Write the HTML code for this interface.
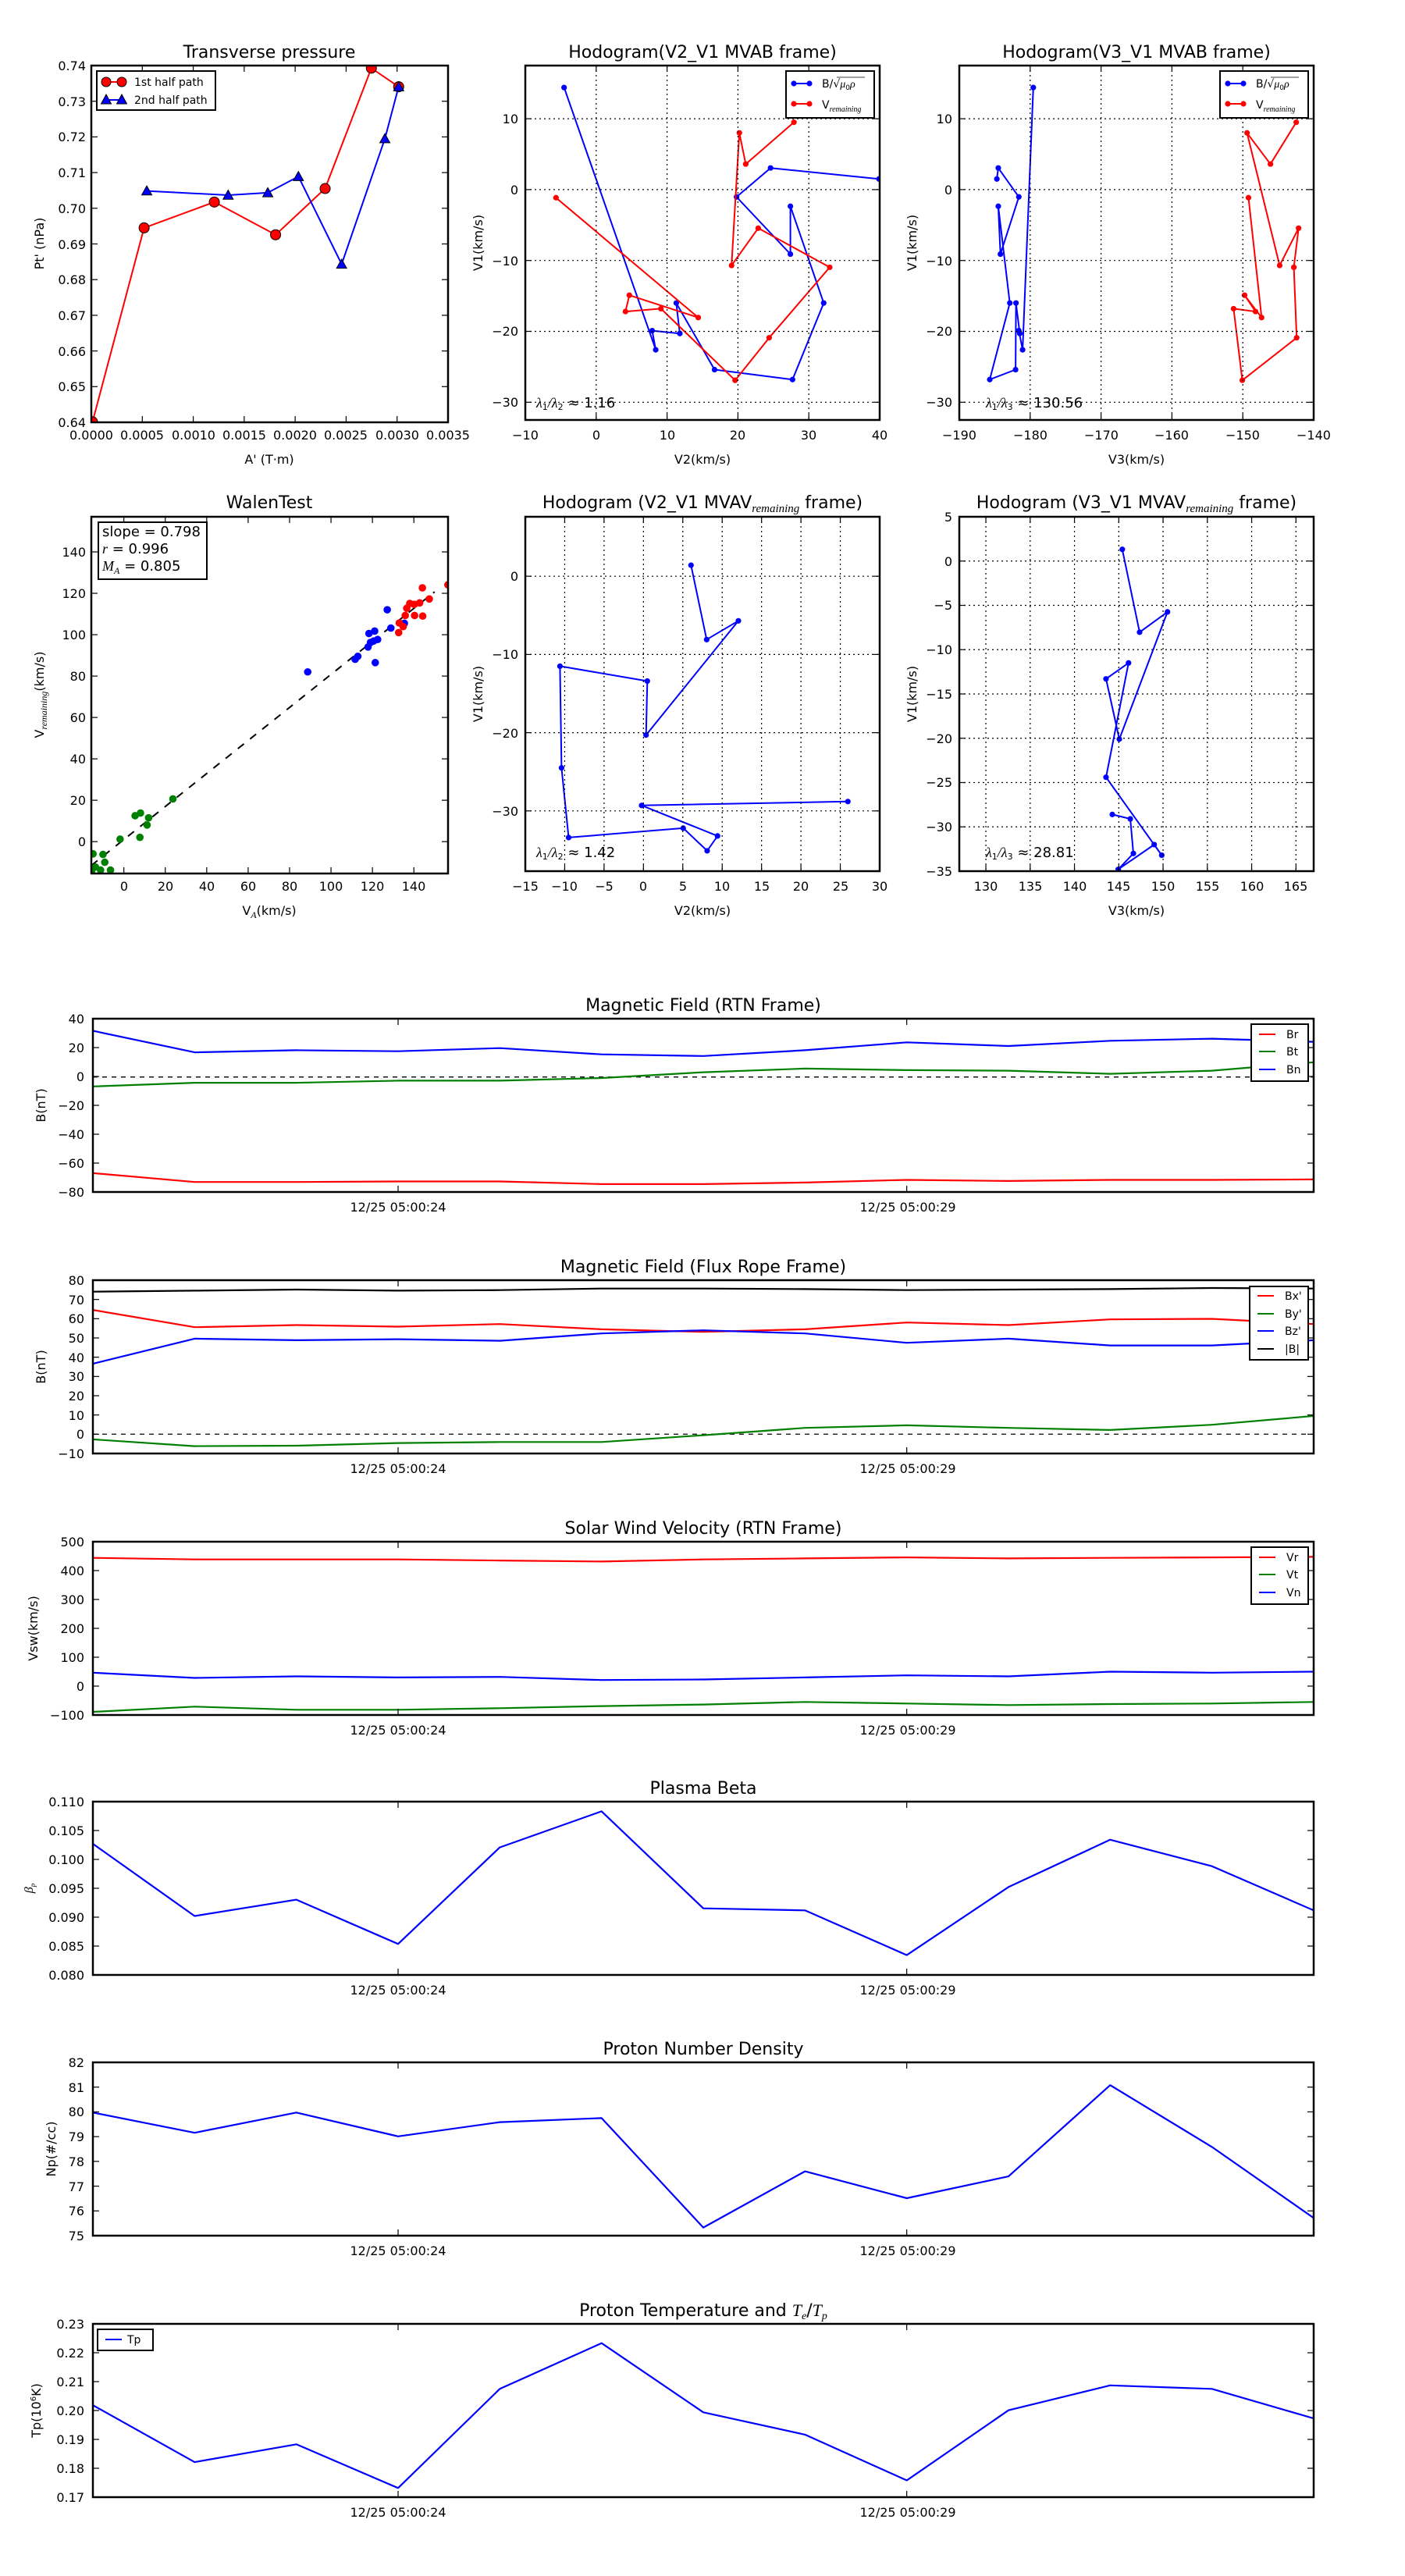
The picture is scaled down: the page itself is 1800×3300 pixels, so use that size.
<!DOCTYPE html>
<html><head><meta charset="utf-8"><style>
html,body{margin:0;padding:0;background:#fff}
svg{display:block;font-family:"DejaVu Sans","Liberation Sans",sans-serif}
.t{font-size:22px;text-anchor:middle}
.k{font-size:16px}
.r{text-anchor:end}
.c{text-anchor:middle}
.lg{font-size:14px}
.m{font-family:"Liberation Serif","DejaVu Serif",serif;font-style:italic}
</style></head><body>
<svg id="s" xmlns="http://www.w3.org/2000/svg" width="1800" height="3300" viewBox="0 0 1800 3300">
<rect width="1800" height="3300" fill="#fff"/>
<g id="g"></g>
<text class="t" x="345" y="74">Transverse pressure</text>
<text class="t" x="900" y="74">Hodogram(V2_V1 MVAB frame)</text>
<text class="t" x="1456" y="74">Hodogram(V3_V1 MVAB frame)</text>
<text class="t" x="345" y="651">WalenTest</text>
<text class="t" x="900" y="651">Hodogram (V2_V1 MVAV<tspan class="m" font-size="15" dy="5">remaining</tspan><tspan dy="-5"> frame)</tspan></text>
<text class="t" x="1456" y="651">Hodogram (V3_V1 MVAV<tspan class="m" font-size="15" dy="5">remaining</tspan><tspan dy="-5"> frame)</tspan></text>
<text class="t" x="901" y="1295">Magnetic Field (RTN Frame)</text>
<text class="t" x="901" y="1630">Magnetic Field (Flux Rope Frame)</text>
<text class="t" x="901" y="1965">Solar Wind Velocity (RTN Frame)</text>
<text class="t" x="901" y="2298">Plasma Beta</text>
<text class="t" x="901" y="2632">Proton Number Density</text>
<text class="t" x="901" y="2967">Proton Temperature and <tspan class="m">T</tspan><tspan class="m" font-size="14" dy="4">e</tspan><tspan dy="-4">/</tspan><tspan class="m">T</tspan><tspan class="m" font-size="14" dy="4">p</tspan></text>

<g class="k c">
<text x="117" y="563">0.0000</text><text x="182" y="563">0.0005</text><text x="248" y="563">0.0010</text><text x="313" y="563">0.0015</text><text x="378" y="563">0.0020</text><text x="443" y="563">0.0025</text><text x="509" y="563">0.0030</text><text x="574" y="563">0.0035</text>
<text x="345" y="594">A' (T·m)</text>
</g>
<g class="k r">
<text x="110" y="547">0.64</text><text x="110" y="501">0.65</text><text x="110" y="456">0.66</text><text x="110" y="410">0.67</text><text x="110" y="364">0.68</text><text x="110" y="319">0.69</text><text x="110" y="273">0.70</text><text x="110" y="227">0.71</text><text x="110" y="181">0.72</text><text x="110" y="136">0.73</text><text x="110" y="90">0.74</text>
</g>
<text class="k c" transform="translate(56,312) rotate(-90)">Pt' (nPa)</text>
<text class="lg" x="172" y="110">1st half path</text>
<text class="lg" x="172" y="133">2nd half path</text>

<g class="k c">
<text x="159" y="1141">0</text><text x="212" y="1141">20</text><text x="265" y="1141">40</text><text x="318" y="1141">60</text><text x="371" y="1141">80</text><text x="424" y="1141">100</text><text x="477" y="1141">120</text><text x="530" y="1141">140</text>
<text x="345" y="1172">V<tspan class="m" font-size="12" dy="4">A</tspan><tspan dy="-4">(km/s)</tspan></text>
</g>
<g class="k r">
<text x="110" y="1084">0</text><text x="110" y="1031">20</text><text x="110" y="978">40</text><text x="110" y="925">60</text><text x="110" y="872">80</text><text x="110" y="819">100</text><text x="110" y="766">120</text><text x="110" y="713">140</text>
</g>
<text class="k c" transform="translate(56,890) rotate(-90)">V<tspan class="m" font-size="12" dy="4">remaining</tspan><tspan dy="-4">(km/s)</tspan></text>
<g style="font-size:18px">
<text x="131" y="687">slope = 0.798</text>
<text x="131" y="709"><tspan class="m">r</tspan> = 0.996</text>
<text x="131" y="731"><tspan class="m">M</tspan><tspan class="m" font-size="12" dy="4">A</tspan><tspan dy="-4"> = 0.805</tspan></text>
</g>

<g class="k c">
<text x="673" y="563">−10</text><text x="764" y="563">0</text><text x="855" y="563">10</text><text x="945" y="563">20</text><text x="1036" y="563">30</text><text x="1127" y="563">40</text>
<text x="900" y="594">V2(km/s)</text>
<text x="1229" y="563">−190</text><text x="1320" y="563">−180</text><text x="1411" y="563">−170</text><text x="1501" y="563">−160</text><text x="1592" y="563">−150</text><text x="1683" y="563">−140</text>
<text x="1456" y="594">V3(km/s)</text>
</g>
<g class="k r">
<text x="664" y="158">10</text><text x="664" y="249">0</text><text x="664" y="340">−10</text><text x="664" y="430">−20</text><text x="664" y="521">−30</text>
<text x="1220" y="158">10</text><text x="1220" y="249">0</text><text x="1220" y="340">−10</text><text x="1220" y="430">−20</text><text x="1220" y="521">−30</text>
</g>
<text class="k c" transform="translate(618,311) rotate(-90)">V1(km/s)</text>
<text class="k c" transform="translate(1174,311) rotate(-90)">V1(km/s)</text>
<text x="687" y="522" font-size="18"><tspan class="m">λ</tspan><tspan font-size="11" dy="3">1</tspan><tspan class="m" dy="-3">/λ</tspan><tspan font-size="11" dy="3">2</tspan><tspan dy="-3"> ≈ 1.16</tspan></text>
<text x="1263" y="522" font-size="18"><tspan class="m">λ</tspan><tspan font-size="11" dy="3">1</tspan><tspan class="m" dy="-3">/λ</tspan><tspan font-size="11" dy="3">3</tspan><tspan dy="-3"> ≈ 130.56</tspan></text>
<g font-size="14">
<text x="1053" y="112">B/√<tspan class="m">μ</tspan><tspan font-size="9" dy="3">0</tspan><tspan class="m" dy="-3">ρ</tspan></text>
<text x="1053" y="139">V<tspan class="m" font-size="10" dy="4">remaining</tspan></text>
<text x="1609" y="112">B/√<tspan class="m">μ</tspan><tspan font-size="9" dy="3">0</tspan><tspan class="m" dy="-3">ρ</tspan></text>
<text x="1609" y="139">V<tspan class="m" font-size="10" dy="4">remaining</tspan></text>
</g>
<line x1="1072" y1="99" x2="1108" y2="99" stroke="#000" stroke-width="0.8"/>
<line x1="1628" y1="99" x2="1664" y2="99" stroke="#000" stroke-width="0.8"/>

<g class="k c">
<text x="673" y="1141">−15</text><text x="723" y="1141">−10</text><text x="774" y="1141">−5</text><text x="824" y="1141">0</text><text x="875" y="1141">5</text><text x="925" y="1141">10</text><text x="976" y="1141">15</text><text x="1026" y="1141">20</text><text x="1077" y="1141">25</text><text x="1127" y="1141">30</text>
<text x="900" y="1172">V2(km/s)</text>
<text x="1263" y="1141">130</text><text x="1320" y="1141">135</text><text x="1377" y="1141">140</text><text x="1433" y="1141">145</text><text x="1490" y="1141">150</text><text x="1547" y="1141">155</text><text x="1604" y="1141">160</text><text x="1660" y="1141">165</text>
<text x="1456" y="1172">V3(km/s)</text>
</g>
<g class="k r">
<text x="664" y="744">0</text><text x="664" y="844">−10</text><text x="664" y="945">−20</text><text x="664" y="1045">−30</text>
<text x="1220" y="668">5</text><text x="1220" y="725">0</text><text x="1220" y="781">−5</text><text x="1220" y="838">−10</text><text x="1220" y="895">−15</text><text x="1220" y="952">−20</text><text x="1220" y="1008">−25</text><text x="1220" y="1065">−30</text><text x="1220" y="1122">−35</text>
</g>
<text class="k c" transform="translate(618,889) rotate(-90)">V1(km/s)</text>
<text class="k c" transform="translate(1174,889) rotate(-90)">V1(km/s)</text>
<text x="687" y="1098" font-size="18"><tspan class="m">λ</tspan><tspan font-size="11" dy="3">1</tspan><tspan class="m" dy="-3">/λ</tspan><tspan font-size="11" dy="3">2</tspan><tspan dy="-3"> ≈ 1.42</tspan></text>
<text x="1263" y="1098" font-size="18"><tspan class="m">λ</tspan><tspan font-size="11" dy="3">1</tspan><tspan class="m" dy="-3">/λ</tspan><tspan font-size="11" dy="3">3</tspan><tspan dy="-3"> ≈ 28.81</tspan></text>

<g class="k c">
<text x="510" y="1552">12/25 05:00:24</text><text x="1163" y="1552">12/25 05:00:29</text>
<text x="510" y="1887">12/25 05:00:24</text><text x="1163" y="1887">12/25 05:00:29</text>
<text x="510" y="2222">12/25 05:00:24</text><text x="1163" y="2222">12/25 05:00:29</text>
<text x="510" y="2555">12/25 05:00:24</text><text x="1163" y="2555">12/25 05:00:29</text>
<text x="510" y="2889">12/25 05:00:24</text><text x="1163" y="2889">12/25 05:00:29</text>
<text x="510" y="3224">12/25 05:00:24</text><text x="1163" y="3224">12/25 05:00:29</text>
</g>
<g class="k r">
<text x="108" y="1311">40</text><text x="108" y="1348">20</text><text x="108" y="1385">0</text><text x="108" y="1422">−20</text><text x="108" y="1459">−40</text><text x="108" y="1496">−60</text><text x="108" y="1533">−80</text>
<text x="108" y="1646">80</text><text x="108" y="1671">70</text><text x="108" y="1695">60</text><text x="108" y="1720">50</text><text x="108" y="1745">40</text><text x="108" y="1769">30</text><text x="108" y="1794">20</text><text x="108" y="1819">10</text><text x="108" y="1843">0</text><text x="108" y="1868">−10</text>
<text x="108" y="1981">500</text><text x="108" y="2018">400</text><text x="108" y="2055">300</text><text x="108" y="2092">200</text><text x="108" y="2129">100</text><text x="108" y="2166">0</text><text x="108" y="2203">−100</text>
<text x="108" y="2314">0.110</text><text x="108" y="2351">0.105</text><text x="108" y="2388">0.100</text><text x="108" y="2425">0.095</text><text x="108" y="2462">0.090</text><text x="108" y="2499">0.085</text><text x="108" y="2536">0.080</text>
<text x="108" y="2648">82</text><text x="108" y="2680">81</text><text x="108" y="2711">80</text><text x="108" y="2743">79</text><text x="108" y="2775">78</text><text x="108" y="2807">77</text><text x="108" y="2838">76</text><text x="108" y="2870">75</text>
<text x="108" y="2983">0.23</text><text x="108" y="3020">0.22</text><text x="108" y="3057">0.21</text><text x="108" y="3094">0.20</text><text x="108" y="3131">0.19</text><text x="108" y="3168">0.18</text><text x="108" y="3205">0.17</text>
</g>
<text class="k c" transform="translate(58,1416) rotate(-90)">B(nT)</text>
<text class="k c" transform="translate(58,1751) rotate(-90)">B(nT)</text>
<text class="k c" transform="translate(48,2086) rotate(-90)">Vsw(km/s)</text>
<text class="k c" transform="translate(42,2419) rotate(-90)" font-size="13"><tspan class="m">β</tspan><tspan class="m" font-size="9" dy="3">p</tspan></text>
<text class="k c" transform="translate(71,2753) rotate(-90)">Np(#/cc)</text>
<text class="k c" transform="translate(52,3088) rotate(-90)">Tp(10<tspan font-size="10" dy="-6">6</tspan><tspan dy="6">K)</tspan></text>
<g font-size="14">
<text x="1648" y="1330">Br</text><text x="1648" y="1352">Bt</text><text x="1648" y="1375">Bn</text>
<text x="1646" y="1665">Bx'</text><text x="1646" y="1688">By'</text><text x="1646" y="1710">Bz'</text><text x="1646" y="1733">|B|</text>
<text x="1648" y="2000">Vr</text><text x="1648" y="2022">Vt</text><text x="1648" y="2045">Vn</text>
<text x="163" y="3002">Tp</text>
</g>
</svg>
<script>
(function(){
var NS="http://www.w3.org/2000/svg",G=document.getElementById("g"),cid=0;
function el(t,a,p){var e=document.createElementNS(NS,t);for(var k in a)e.setAttribute(k,a[k]);(p||G).appendChild(e);return e;}
function Ax(L,T,R,B,x0,x1,y0,y1){
  var o={L:L,T:T,R:R,B:B,X:function(v){return L+(v-x0)/(x1-x0)*(R-L);},Y:function(v){return B-(v-y0)/(y1-y0)*(B-T);}};
  var id="c"+(cid++);var cp=el("clipPath",{id:id});el("rect",{x:L,y:T,width:R-L,height:B-T},cp);
  o.g=el("g",{"clip-path":"url(#"+id+")"});
  return o;
}
function frame(o){el("rect",{x:o.L,y:o.T,width:o.R-o.L,height:o.B-o.T,fill:"none",stroke:"#000","stroke-width":2.5});}
function xt(o,vals,grid){vals.forEach(function(v){var x=o.X(v);
  if(grid)el("line",{x1:x,y1:o.T,x2:x,y2:o.B,stroke:"#000","stroke-width":1.2,"stroke-dasharray":"2,4"});
  el("line",{x1:x,y1:o.B,x2:x,y2:o.B-8,stroke:"#000","stroke-width":1.2});el("line",{x1:x,y1:o.T,x2:x,y2:o.T+8,stroke:"#000","stroke-width":1.2});});}
function yt(o,vals,grid){vals.forEach(function(v){var y=o.Y(v);
  if(grid)el("line",{x1:o.L,y1:y,x2:o.R,y2:y,stroke:"#000","stroke-width":1.2,"stroke-dasharray":"2,4"});
  el("line",{x1:o.L,y1:y,x2:o.L+8,y2:y,stroke:"#000","stroke-width":1.2});el("line",{x1:o.R,y1:y,x2:o.R-8,y2:y,stroke:"#000","stroke-width":1.2});});}
function line(o,pts,col,w,dash){var s=pts.map(function(p){return o.X(p[0]).toFixed(1)+","+o.Y(p[1]).toFixed(1);}).join(" ");
  var a={points:s,fill:"none",stroke:col,"stroke-width":w||2,"stroke-linejoin":"round"};if(dash)a["stroke-dasharray"]=dash;el("polyline",a,o.g);}
function dots(o,pts,col,r,edge){pts.forEach(function(p){var a={cx:o.X(p[0]),cy:o.Y(p[1]),r:r,fill:col};if(edge){a.stroke="#000";a["stroke-width"]=1;}el("circle",a,o.g);});}
function tris(o,pts,col,s){pts.forEach(function(p){var x=o.X(p[0]),y=o.Y(p[1]);
  el("polygon",{points:(x)+","+(y-s)+" "+(x-s)+","+(y+s*0.8)+" "+(x+s)+","+(y+s*0.8),fill:col,stroke:"#000","stroke-width":1},o.g);});}
function rng(a,b,s){var r=[];for(var v=a;v<=b+1e-9;v+=s)r.push(+v.toFixed(6));return r;}

var z=0.3846;
var P1=Ax(117,84,574,541,117,574,541,84);
P1.Y=function(v){return v;};P1.X=function(v){return v;};
var red=[[308,1405],[480,759],[714,673],[918,782],[1083,628],[1237,227],[1328,289]].map(function(p){return[p[0]*z,p[1]*z];});
var blu=[[489,636],[760,650],[892,642],[994,588],[1138,880],[1282,462],[1328,289]].map(function(p){return[p[0]*z,p[1]*z];});
line(P1,red,"#f00",2);dots(P1,red,"#f00",6.5,true);
line(P1,blu,"#00f",2);tris(P1,blu,"#00f",6.5);
frame(P1);
(function(){for(var i=0;i<=7;i++){var x=117+i*457/7;el("line",{x1:x,y1:541,x2:x,y2:533,stroke:"#000","stroke-width":1.2});el("line",{x1:x,y1:84,x2:x,y2:92,stroke:"#000","stroke-width":1.2});}
for(var j=0;j<=10;j++){var y=541-j*45.7;el("line",{x1:117,y1:y,x2:125,y2:y,stroke:"#000","stroke-width":1.2});el("line",{x1:574,y1:y,x2:566,y2:y,stroke:"#000","stroke-width":1.2});}})();
el("rect",{x:124,y:91,width:152,height:50,fill:"#fff",stroke:"#000","stroke-width":2});
el("line",{x1:136,y1:105,x2:156,y2:105,stroke:"#f00","stroke-width":2});
el("circle",{cx:136,cy:105,r:6,fill:"#f00",stroke:"#000"});el("circle",{cx:156,cy:105,r:6,fill:"#f00",stroke:"#000"});
el("line",{x1:136,y1:128,x2:156,y2:128,stroke:"#00f","stroke-width":2});
[136,156].forEach(function(x){el("polygon",{points:x+",121 "+(x-6.5)+",133 "+(x+6.5)+",133",fill:"#00f",stroke:"#000"});});

var W=Ax(117,662,574,1119,117,574,1119,662);W.X=function(v){return v;};W.Y=function(v){return v;};
function wz(a){return a.map(function(p){return[p[0]*z,600+p[1]*z];});}
var WX=function(v){return 117+(v+15.7)*2.654;},WY=function(v){return 1119-(v+15.4)*2.651;};
el("line",{x1:WX(-15.7),y1:WY(-15.7*0.798+1),x2:WX(150),y2:WY(150*0.798+1),stroke:"#000","stroke-width":2,"stroke-dasharray":"10,10"},W.g);
dots(W,wz([[310,1284],[343,1286],[349,1312],[318,1328],[335,1338],[368,1338],[305,1342],[400,1235],[450,1157],[468,1148],[466,1229],[490,1188],[495,1164],[576,1101]]),"#008000",4.8);
dots(W,wz([[1025,678],[1183,636],[1192,626],[1226,595],[1229,550],[1234,580],[1248,542],[1245,575],[1258,570],[1250,647],[1290,471],[1302,532],[1347,516]]),"#00f",4.8);
dots(W,wz([[1330,515],[1328,547],[1343,527],[1350,490],[1355,466],[1365,450],[1380,453],[1381,490],[1398,448],[1407,398],[1408,492],[1430,435],[1492,388]]),"#f00",4.8);
frame(W);
rng(0,140,20).forEach(function(v){var x=WX(v),y=WY(v);
 el("line",{x1:x,y1:1119,x2:x,y2:1111,stroke:"#000","stroke-width":1.2});el("line",{x1:x,y1:662,x2:x,y2:670,stroke:"#000","stroke-width":1.2});
 el("line",{x1:117,y1:y,x2:125,y2:y,stroke:"#000","stroke-width":1.2});el("line",{x1:574,y1:y,x2:566,y2:y,stroke:"#000","stroke-width":1.2});});
el("rect",{x:126,y:669,width:139,height:73,fill:"#fff",stroke:"#000","stroke-width":2});

function hodo(o,xs,ys,series){xt(o,xs,true);yt(o,ys,true);series.forEach(function(s){line(o,s[0],s[1],2);dots(o,s[0],s[1],3.6);});frame(o);}
var H1b=[[-4.53,14.4],[8.4,-22.6],[7.9,-19.9],[11.8,-20.3],[11.3,-16.0],[16.7,-25.4],[27.7,-26.8],[32.1,-16.0],[27.4,-2.35],[27.4,-9.1],[19.8,-1.03],[24.6,3.05],[39.9,1.5]];
var H1r=[[-5.67,-1.14],[14.4,-18.05],[4.68,-14.9],[4.13,-17.2],[9.13,-16.8],[19.6,-26.9],[24.4,-20.9],[32.95,-10.96],[22.86,-5.44],[19.1,-10.7],[20.2,8.0],[21.1,3.6],[27.9,9.5]];
var H2bx=[-179.56,-181.07,-181.6,-181.47,-182.0,-182.06,-185.7,-182.87,-184.5,-184.2,-181.6,-184.5,-184.7];
var H2rx=[-149.2,-147.35,-149.75,-148.2,-151.3,-150.07,-142.4,-142.8,-142.13,-144.8,-149.4,-146.1,-142.46];
var H2b=H1b.map(function(p,i){return[H2bx[i],p[1]];}),H2r=H1r.map(function(p,i){return[H2rx[i],p[1]];});
var A1=Ax(673,84,1127,538,-10,40,-32.5,17.5);hodo(A1,rng(-10,40,10),rng(-30,10,10),[[H1b,"#00f"],[H1r,"#f00"]]);
var A2=Ax(1229,84,1683,538,-190,-140,-32.5,17.5);hodo(A2,rng(-190,-140,10),rng(-30,10,10),[[H2b,"#00f"],[H2r,"#f00"]]);
var H3=[[6.04,1.4],[8.03,-8.1],[12.06,-5.7],[0.33,-20.3],[0.49,-13.4],[-10.6,-11.5],[-10.4,-24.5],[-9.5,-33.4],[5.05,-32.2],[8.09,-35.1],[9.41,-33.2],[-0.23,-29.3],[25.96,-28.8]];
var H4=[[145.4,1.32],[147.35,-8.03],[150.5,-5.74],[145.06,-20.1],[143.56,-13.3],[146.1,-11.5],[143.56,-24.4],[149.85,-33.2],[149.0,-32.0],[144.94,-34.8],[146.65,-33.0],[146.3,-29.1],[144.27,-28.6]];
var A3=Ax(673,662,1127,1116,-15,30,-37.7,7.6);hodo(A3,rng(-15,30,5),rng(-30,0,10),[[H3,"#00f"]]);
var A4=Ax(1229,662,1683,1116,127,167,-35,5);hodo(A4,rng(130,165,5),rng(-35,5,5),[[H4,"#00f"]]);
[[1007,1017],[1563,1573]].forEach(function(q){el("rect",{x:q[0],y:91,width:113,height:60,fill:"#fff",stroke:"#000","stroke-width":2});
 el("line",{x1:q[1],y1:107,x2:q[1]+20,y2:107,stroke:"#00f","stroke-width":2});el("circle",{cx:q[1],cy:107,r:3.6,fill:"#00f"});el("circle",{cx:q[1]+20,cy:107,r:3.6,fill:"#00f"});
 el("line",{x1:q[1],y1:133,x2:q[1]+20,y2:133,stroke:"#f00","stroke-width":2});el("circle",{cx:q[1],cy:133,r:3.6,fill:"#f00"});el("circle",{cx:q[1]+20,cy:133,r:3.6,fill:"#f00"});});

var TR=1683;
function ts(T,zt,zb,yt2,series,zero){var B=T+222;var o=Ax(119,T,TR,B,0,12,0,1);
 o.Y=function(zy){return T+(zy-zt)/(zb-zt)*222;};
 if(zero!==undefined)el("line",{x1:119,y1:o.Y(zero),x2:TR,y2:o.Y(zero),stroke:"#000","stroke-width":1.3,"stroke-dasharray":"6,6"},o.g);
 series.forEach(function(s){line(o,s[0].map(function(v,i){return[i,v];}),s[1],2.2);});
 frame(o);
 [3,8].forEach(function(i){var x=o.X(i);el("line",{x1:x,y1:B,x2:x,y2:B-8,stroke:"#000","stroke-width":1.2});el("line",{x1:x,y1:T,x2:x,y2:T+8,stroke:"#000","stroke-width":1.2});});
 for(var j=0;j<yt2;j++){var y=T+j*222/(yt2-1);el("line",{x1:119,y1:y,x2:127,y2:y,stroke:"#000","stroke-width":1.2});el("line",{x1:TR,y1:y,x2:TR-8,y2:y,stroke:"#000","stroke-width":1.2});}
 return o;}
ts(1305,82,412,7,[[[105,146,142,144,138,150,153,142,127,134,124,120,126],"#00f"],[[211,204,204,200,200,195,184,177,180,181,187,181,165],"#008000"],[[376,393,393,392,392,397,397,394,389,391,389,389,388],"#f00"]],193);
ts(1640,580,912,10,[[[602,600,598,600,599,596,596,597,599,598,597,595,596],"#000"],[[637,670,666,669,664,674,679,674,661,666,655,654,664],"#f00"],[[740,692,695,693,696,682,676,682,700,692,705,705,695],"#00f"],[[885,898,897,892,890,890,877,863,858,863,867,857,840],"#008000"]],875);
ts(1975,1078,1410,7,[[[1109,1112,1112,1112,1114,1116,1112,1110,1108,1110,1109,1108,1107],"#f00"],[[1329,1339,1336,1338,1337,1343,1342,1338,1334,1336,1327,1329,1327],"#00f"],[[1404,1394,1400,1400,1397,1393,1390,1385,1388,1391,1389,1388,1385],"#008000"]]);
ts(2308,0,341,7,[[[83,225,193,280,90,19,210,214,302,168,75,127,214],"#00f"]]);
ts(2642,0,342,8,[[[99,139,99,146,118,110,326,215,268,225,45,167,307],"#00f"]]);
ts(2977,0,341,7,[[[160,272,237,323,128,38,174,218,308,170,121,128,186],"#00f"]]);
function lg(x,y,w,h,items){el("rect",{x:x,y:y,width:w,height:h,fill:"#fff",stroke:"#000","stroke-width":2});
 items.forEach(function(it){el("line",{x1:x+10,y1:it[0],x2:x+31,y2:it[0],stroke:it[1],"stroke-width":2});});}
lg(1603,1312,73,73,[[1325,"#f00"],[1347,"#008000"],[1370,"#00f"]]);
lg(1601,1648,75,94,[[1660,"#f00"],[1683,"#008000"],[1705,"#00f"],[1728,"#000"]]);
lg(1603,1982,73,73,[[1995,"#f00"],[2017,"#008000"],[2040,"#00f"]]);
lg(125,2984,71,27,[[2997,"#00f"]]);
var s=document.getElementById("s");s.appendChild(G);var texts=[].slice.call(s.querySelectorAll(":scope > text, :scope > g:not(#g), :scope > line"));texts.forEach(function(t){s.appendChild(t);});
})();
</script>
</body></html>
